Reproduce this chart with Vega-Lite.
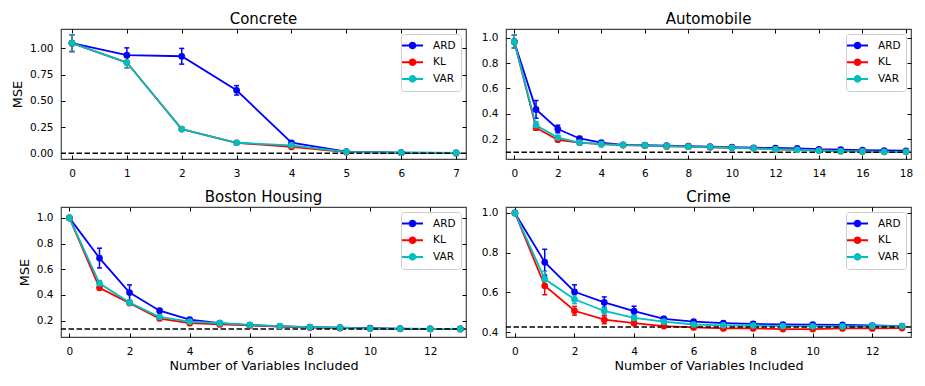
{
  "$schema": "https://vega.github.io/schema/vega-lite/v6.json",
  "autosize": {"type": "none"},
  "padding": {"left": 61, "top": 29, "right": 864, "bottom": 357},
  "background": "white",
  "columns": 2,
  "spacing": {"row": 48, "column": 40},
  "bounds": "flush",
  "resolve": {"scale": {"x": "independent", "y": "independent", "color": "independent"}, "legend": {"color": "independent"}},
  "concat": [
        {
          "title": "Concrete",
          "width": 405, "height": 130,
          "data": {"values": [
            {"x":0,"m":"ARD","y":1.05,"e":0.08},{"x":1,"m":"ARD","y":0.935,"e":0.07},{"x":2,"m":"ARD","y":0.925,"e":0.075},{"x":3,"m":"ARD","y":0.6,"e":0.045},{"x":4,"m":"ARD","y":0.1,"e":0.015},{"x":5,"m":"ARD","y":0.015,"e":0.005},{"x":6,"m":"ARD","y":0.005,"e":0.002},{"x":7,"m":"ARD","y":0.003,"e":0.002},
            {"x":0,"m":"KL","y":1.05,"e":0.08},{"x":1,"m":"KL","y":0.865,"e":0.05},{"x":2,"m":"KL","y":0.23,"e":0.015},{"x":3,"m":"KL","y":0.1,"e":0.01},{"x":4,"m":"KL","y":0.06,"e":0.01},{"x":5,"m":"KL","y":0.01,"e":0.003},{"x":6,"m":"KL","y":0.004,"e":0.002},{"x":7,"m":"KL","y":0.002,"e":0.001},
            {"x":0,"m":"VAR","y":1.05,"e":0.08},{"x":1,"m":"VAR","y":0.865,"e":0.05},{"x":2,"m":"VAR","y":0.23,"e":0.015},{"x":3,"m":"VAR","y":0.1,"e":0.01},{"x":4,"m":"VAR","y":0.075,"e":0.01},{"x":5,"m":"VAR","y":0.013,"e":0.003},{"x":6,"m":"VAR","y":0.005,"e":0.002},{"x":7,"m":"VAR","y":0.003,"e":0.001}
          ]},
          "layer": [
            {"mark": {"type": "errorbar", "ticks": {"size": 5, "thickness": 1.5, "opacity": 1}, "thickness": 1.5, "opacity": 1},
             "encoding": {"x": {"field": "x", "type": "quantitative", "axis": null}, "y": {"field": "y", "type": "quantitative", "axis": null}, "yError": {"field": "e"}, "color": {"field": "m", "type": "nominal"}}},
            {"mark": {"type": "line", "strokeWidth": 1.8},
             "encoding": {
               "x": {"field": "x", "type": "quantitative", "scale": {"domain": [-0.2, 7.18], "nice": false, "zero": false}, "axis": {"orient": "bottom", "values": [0,1,2,3,4,5,6,7], "title": null}},
               "y": {"field": "y", "type": "quantitative", "scale": {"domain": [-0.055, 1.185], "nice": false, "zero": false}, "axis": {"orient": "left", "values": [0,0.25,0.5,0.75,1], "format": ".2f", "title": "MSE"}},
               "color": {"field": "m", "type": "nominal", "scale": {"domain": ["ARD","KL","VAR"], "range": ["#0000ff","#ff0000","#00bfbf"]}, "legend": {"orient": "top-right", "title": null, "symbolType": "M-2,0H2M0.534,0A0.534,0.534,0,1,1,-0.534,0A0.534,0.534,0,1,1,0.534,0M0.19,0A0.19,0.19,0,1,1,-0.19,0A0.19,0.19,0,1,1,0.19,0", "symbolSize": 110, "symbolStrokeWidth": 2, "symbolOpacity": 1}}}},
            {"data": {"values": [{"ref": 0}]}, "mark": {"type": "rule", "color": "black", "strokeDash": [5.5, 2.5], "strokeWidth": 1.5},
             "encoding": {"y": {"field": "ref", "type": "quantitative", "axis": null}}},
            {"mark": {"type": "circle", "size": 45, "opacity": 1},
             "encoding": {
               "x": {"field": "x", "type": "quantitative", "axis": {"orient": "top", "values": [0,1,2,3,4,5,6,7], "labels": false, "title": null}},
               "y": {"field": "y", "type": "quantitative", "axis": {"orient": "right", "values": [0,0.25,0.5,0.75,1], "labels": false, "title": null}},
               "color": {"field": "m", "type": "nominal"}}}
          ]
        },
        {
          "title": "Automobile",
          "width": 405, "height": 130,
          "data": {"values": [
            {"x":0,"m":"ARD","y":0.97,"e":0.05},{"x":1,"m":"ARD","y":0.435,"e":0.07},{"x":2,"m":"ARD","y":0.28,"e":0.03},{"x":3,"m":"ARD","y":0.205,"e":0.015},{"x":4,"m":"ARD","y":0.172,"e":0.01},{"x":5,"m":"ARD","y":0.155,"e":0.008},{"x":6,"m":"ARD","y":0.152,"e":0.007},{"x":7,"m":"ARD","y":0.148,"e":0.006},{"x":8,"m":"ARD","y":0.145,"e":0.006},{"x":9,"m":"ARD","y":0.14,"e":0.006},{"x":10,"m":"ARD","y":0.137,"e":0.005},{"x":11,"m":"ARD","y":0.132,"e":0.005},{"x":12,"m":"ARD","y":0.13,"e":0.005},{"x":13,"m":"ARD","y":0.127,"e":0.005},{"x":14,"m":"ARD","y":0.12,"e":0.005},{"x":15,"m":"ARD","y":0.117,"e":0.005},{"x":16,"m":"ARD","y":0.113,"e":0.005},{"x":17,"m":"ARD","y":0.11,"e":0.005},{"x":18,"m":"ARD","y":0.108,"e":0.005},
            {"x":0,"m":"KL","y":0.97,"e":0.05},{"x":1,"m":"KL","y":0.29,"e":0.02},{"x":2,"m":"KL","y":0.195,"e":0.012},{"x":3,"m":"KL","y":0.172,"e":0.01},{"x":4,"m":"KL","y":0.16,"e":0.008},{"x":5,"m":"KL","y":0.153,"e":0.007},{"x":6,"m":"KL","y":0.148,"e":0.006},{"x":7,"m":"KL","y":0.142,"e":0.006},{"x":8,"m":"KL","y":0.14,"e":0.006},{"x":9,"m":"KL","y":0.135,"e":0.005},{"x":10,"m":"KL","y":0.132,"e":0.005},{"x":11,"m":"KL","y":0.127,"e":0.005},{"x":12,"m":"KL","y":0.12,"e":0.005},{"x":13,"m":"KL","y":0.116,"e":0.005},{"x":14,"m":"KL","y":0.11,"e":0.005},{"x":15,"m":"KL","y":0.105,"e":0.005},{"x":16,"m":"KL","y":0.103,"e":0.005},{"x":17,"m":"KL","y":0.1,"e":0.005},{"x":18,"m":"KL","y":0.1,"e":0.005},
            {"x":0,"m":"VAR","y":0.97,"e":0.05},{"x":1,"m":"VAR","y":0.31,"e":0.03},{"x":2,"m":"VAR","y":0.212,"e":0.015},{"x":3,"m":"VAR","y":0.173,"e":0.01},{"x":4,"m":"VAR","y":0.16,"e":0.008},{"x":5,"m":"VAR","y":0.153,"e":0.007},{"x":6,"m":"VAR","y":0.15,"e":0.006},{"x":7,"m":"VAR","y":0.145,"e":0.006},{"x":8,"m":"VAR","y":0.14,"e":0.006},{"x":9,"m":"VAR","y":0.137,"e":0.005},{"x":10,"m":"VAR","y":0.132,"e":0.005},{"x":11,"m":"VAR","y":0.127,"e":0.005},{"x":12,"m":"VAR","y":0.12,"e":0.005},{"x":13,"m":"VAR","y":0.116,"e":0.005},{"x":14,"m":"VAR","y":0.11,"e":0.005},{"x":15,"m":"VAR","y":0.105,"e":0.005},{"x":16,"m":"VAR","y":0.103,"e":0.005},{"x":17,"m":"VAR","y":0.1,"e":0.005},{"x":18,"m":"VAR","y":0.1,"e":0.005}
          ]},
          "layer": [
            {"mark": {"type": "errorbar", "ticks": {"size": 5, "thickness": 1.5, "opacity": 1}, "thickness": 1.5, "opacity": 1},
             "encoding": {"x": {"field": "x", "type": "quantitative", "axis": null}, "y": {"field": "y", "type": "quantitative", "axis": null}, "yError": {"field": "e"}, "color": {"field": "m", "type": "nominal"}}},
            {"mark": {"type": "line", "strokeWidth": 1.8},
             "encoding": {
               "x": {"field": "x", "type": "quantitative", "scale": {"domain": [-0.38, 18.23], "nice": false, "zero": false}, "axis": {"orient": "bottom", "values": [0,2,4,6,8,10,12,14,16,18], "title": null}},
               "y": {"field": "y", "type": "quantitative", "scale": {"domain": [0.043, 1.07], "nice": false, "zero": false}, "axis": {"orient": "left", "values": [0.2,0.4,0.6,0.8,1.0], "format": ".1f", "title": null}},
               "color": {"field": "m", "type": "nominal", "scale": {"domain": ["ARD","KL","VAR"], "range": ["#0000ff","#ff0000","#00bfbf"]}, "legend": {"orient": "top-right", "title": null, "symbolType": "M-2,0H2M0.534,0A0.534,0.534,0,1,1,-0.534,0A0.534,0.534,0,1,1,0.534,0M0.19,0A0.19,0.19,0,1,1,-0.19,0A0.19,0.19,0,1,1,0.19,0", "symbolSize": 110, "symbolStrokeWidth": 2, "symbolOpacity": 1}}}},
            {"data": {"values": [{"ref": 0.097}]}, "mark": {"type": "rule", "color": "black", "strokeDash": [5.5, 2.5], "strokeWidth": 1.5},
             "encoding": {"y": {"field": "ref", "type": "quantitative", "axis": null}}},
            {"mark": {"type": "circle", "size": 45, "opacity": 1},
             "encoding": {
               "x": {"field": "x", "type": "quantitative", "axis": {"orient": "top", "values": [0,2,4,6,8,10,12,14,16,18], "labels": false, "title": null}},
               "y": {"field": "y", "type": "quantitative", "axis": {"orient": "right", "values": [0.2,0.4,0.6,0.8,1.0], "labels": false, "title": null}},
               "color": {"field": "m", "type": "nominal"}}}
          ]
        },
        {
          "title": "Boston Housing",
          "width": 405, "height": 130,
          "data": {"values": [
            {"x":0,"m":"ARD","y":1.0,"e":0.01},{"x":1,"m":"ARD","y":0.687,"e":0.077},{"x":2,"m":"ARD","y":0.418,"e":0.06},{"x":3,"m":"ARD","y":0.277,"e":0.015},{"x":4,"m":"ARD","y":0.208,"e":0.01},{"x":5,"m":"ARD","y":0.18,"e":0.006},{"x":6,"m":"ARD","y":0.165,"e":0.005},{"x":7,"m":"ARD","y":0.155,"e":0.005},{"x":8,"m":"ARD","y":0.149,"e":0.004},{"x":9,"m":"ARD","y":0.145,"e":0.004},{"x":10,"m":"ARD","y":0.141,"e":0.004},{"x":11,"m":"ARD","y":0.137,"e":0.004},{"x":12,"m":"ARD","y":0.136,"e":0.004},{"x":13,"m":"ARD","y":0.135,"e":0.004},
            {"x":0,"m":"KL","y":1.0,"e":0.01},{"x":1,"m":"KL","y":0.455,"e":0.015},{"x":2,"m":"KL","y":0.336,"e":0.012},{"x":3,"m":"KL","y":0.216,"e":0.01},{"x":4,"m":"KL","y":0.18,"e":0.008},{"x":5,"m":"KL","y":0.17,"e":0.006},{"x":6,"m":"KL","y":0.162,"e":0.005},{"x":7,"m":"KL","y":0.154,"e":0.005},{"x":8,"m":"KL","y":0.146,"e":0.004},{"x":9,"m":"KL","y":0.141,"e":0.004},{"x":10,"m":"KL","y":0.138,"e":0.004},{"x":11,"m":"KL","y":0.136,"e":0.004},{"x":12,"m":"KL","y":0.135,"e":0.004},{"x":13,"m":"KL","y":0.135,"e":0.004},
            {"x":0,"m":"VAR","y":1.0,"e":0.01},{"x":1,"m":"VAR","y":0.49,"e":0.022},{"x":2,"m":"VAR","y":0.34,"e":0.012},{"x":3,"m":"VAR","y":0.228,"e":0.01},{"x":4,"m":"VAR","y":0.192,"e":0.008},{"x":5,"m":"VAR","y":0.18,"e":0.006},{"x":6,"m":"VAR","y":0.166,"e":0.005},{"x":7,"m":"VAR","y":0.156,"e":0.005},{"x":8,"m":"VAR","y":0.149,"e":0.004},{"x":9,"m":"VAR","y":0.144,"e":0.004},{"x":10,"m":"VAR","y":0.138,"e":0.004},{"x":11,"m":"VAR","y":0.136,"e":0.004},{"x":12,"m":"VAR","y":0.136,"e":0.004},{"x":13,"m":"VAR","y":0.135,"e":0.004}
          ]},
          "layer": [
            {"mark": {"type": "errorbar", "ticks": {"size": 5, "thickness": 1.5, "opacity": 1}, "thickness": 1.5, "opacity": 1},
             "encoding": {"x": {"field": "x", "type": "quantitative", "axis": null}, "y": {"field": "y", "type": "quantitative", "axis": null}, "yError": {"field": "e"}, "color": {"field": "m", "type": "nominal"}}},
            {"mark": {"type": "line", "strokeWidth": 1.8},
             "encoding": {
               "x": {"field": "x", "type": "quantitative", "scale": {"domain": [-0.28, 13.19], "nice": false, "zero": false}, "axis": {"orient": "bottom", "values": [0,2,4,6,8,10,12], "title": "Number of Variables Included"}},
               "y": {"field": "y", "type": "quantitative", "scale": {"domain": [0.072, 1.085], "nice": false, "zero": false}, "axis": {"orient": "left", "values": [0.2,0.4,0.6,0.8,1.0], "format": ".1f", "title": "MSE"}},
               "color": {"field": "m", "type": "nominal", "scale": {"domain": ["ARD","KL","VAR"], "range": ["#0000ff","#ff0000","#00bfbf"]}, "legend": {"orient": "top-right", "title": null, "symbolType": "M-2,0H2M0.534,0A0.534,0.534,0,1,1,-0.534,0A0.534,0.534,0,1,1,0.534,0M0.19,0A0.19,0.19,0,1,1,-0.19,0A0.19,0.19,0,1,1,0.19,0", "symbolSize": 110, "symbolStrokeWidth": 2, "symbolOpacity": 1}}}},
            {"data": {"values": [{"ref": 0.135}]}, "mark": {"type": "rule", "color": "black", "strokeDash": [5.5, 2.5], "strokeWidth": 1.5},
             "encoding": {"y": {"field": "ref", "type": "quantitative", "axis": null}}},
            {"mark": {"type": "circle", "size": 45, "opacity": 1},
             "encoding": {
               "x": {"field": "x", "type": "quantitative", "axis": {"orient": "top", "values": [0,2,4,6,8,10,12], "labels": false, "title": null}},
               "y": {"field": "y", "type": "quantitative", "axis": {"orient": "right", "values": [0.2,0.4,0.6,0.8,1.0], "labels": false, "title": null}},
               "color": {"field": "m", "type": "nominal"}}}
          ]
        },
        {
          "title": "Crime",
          "width": 405, "height": 130,
          "data": {"values": [
            {"x":0,"m":"ARD","y":1.0,"e":0.005},{"x":1,"m":"ARD","y":0.752,"e":0.065},{"x":2,"m":"ARD","y":0.603,"e":0.035},{"x":3,"m":"ARD","y":0.549,"e":0.028},{"x":4,"m":"ARD","y":0.505,"e":0.025},{"x":5,"m":"ARD","y":0.466,"e":0.012},{"x":6,"m":"ARD","y":0.452,"e":0.01},{"x":7,"m":"ARD","y":0.445,"e":0.008},{"x":8,"m":"ARD","y":0.441,"e":0.007},{"x":9,"m":"ARD","y":0.438,"e":0.007},{"x":10,"m":"ARD","y":0.437,"e":0.006},{"x":11,"m":"ARD","y":0.436,"e":0.006},{"x":12,"m":"ARD","y":0.433,"e":0.006},{"x":13,"m":"ARD","y":0.43,"e":0.006},
            {"x":0,"m":"KL","y":1.0,"e":0.005},{"x":1,"m":"KL","y":0.633,"e":0.045},{"x":2,"m":"KL","y":0.507,"e":0.022},{"x":3,"m":"KL","y":0.462,"e":0.02},{"x":4,"m":"KL","y":0.445,"e":0.012},{"x":5,"m":"KL","y":0.43,"e":0.008},{"x":6,"m":"KL","y":0.423,"e":0.007},{"x":7,"m":"KL","y":0.418,"e":0.007},{"x":8,"m":"KL","y":0.418,"e":0.006},{"x":9,"m":"KL","y":0.415,"e":0.006},{"x":10,"m":"KL","y":0.415,"e":0.006},{"x":11,"m":"KL","y":0.418,"e":0.006},{"x":12,"m":"KL","y":0.418,"e":0.006},{"x":13,"m":"KL","y":0.42,"e":0.006},
            {"x":0,"m":"VAR","y":1.0,"e":0.005},{"x":1,"m":"VAR","y":0.667,"e":0.04},{"x":2,"m":"VAR","y":0.565,"e":0.022},{"x":3,"m":"VAR","y":0.506,"e":0.02},{"x":4,"m":"VAR","y":0.471,"e":0.015},{"x":5,"m":"VAR","y":0.452,"e":0.01},{"x":6,"m":"VAR","y":0.438,"e":0.008},{"x":7,"m":"VAR","y":0.434,"e":0.007},{"x":8,"m":"VAR","y":0.433,"e":0.007},{"x":9,"m":"VAR","y":0.43,"e":0.006},{"x":10,"m":"VAR","y":0.429,"e":0.006},{"x":11,"m":"VAR","y":0.429,"e":0.006},{"x":12,"m":"VAR","y":0.43,"e":0.006},{"x":13,"m":"VAR","y":0.43,"e":0.006}
          ]},
          "layer": [
            {"mark": {"type": "errorbar", "ticks": {"size": 5, "thickness": 1.5, "opacity": 1}, "thickness": 1.5, "opacity": 1},
             "encoding": {"x": {"field": "x", "type": "quantitative", "axis": null}, "y": {"field": "y", "type": "quantitative", "axis": null}, "yError": {"field": "e"}, "color": {"field": "m", "type": "nominal"}}},
            {"mark": {"type": "line", "strokeWidth": 1.8},
             "encoding": {
               "x": {"field": "x", "type": "quantitative", "scale": {"domain": [-0.3, 13.3], "nice": false, "zero": false}, "axis": {"orient": "bottom", "values": [0,2,4,6,8,10,12], "title": "Number of Variables Included"}},
               "y": {"field": "y", "type": "quantitative", "scale": {"domain": [0.375, 1.03], "nice": false, "zero": false}, "axis": {"orient": "left", "values": [0.4,0.6,0.8,1.0], "format": ".1f", "title": null}},
               "color": {"field": "m", "type": "nominal", "scale": {"domain": ["ARD","KL","VAR"], "range": ["#0000ff","#ff0000","#00bfbf"]}, "legend": {"orient": "top-right", "title": null, "symbolType": "M-2,0H2M0.534,0A0.534,0.534,0,1,1,-0.534,0A0.534,0.534,0,1,1,0.534,0M0.19,0A0.19,0.19,0,1,1,-0.19,0A0.19,0.19,0,1,1,0.19,0", "symbolSize": 110, "symbolStrokeWidth": 2, "symbolOpacity": 1}}}},
            {"data": {"values": [{"ref": 0.425}]}, "mark": {"type": "rule", "color": "black", "strokeDash": [5.5, 2.5], "strokeWidth": 1.5},
             "encoding": {"y": {"field": "ref", "type": "quantitative", "axis": null}}},
            {"mark": {"type": "circle", "size": 45, "opacity": 1},
             "encoding": {
               "x": {"field": "x", "type": "quantitative", "axis": {"orient": "top", "values": [0,2,4,6,8,10,12], "labels": false, "title": null}},
               "y": {"field": "y", "type": "quantitative", "axis": {"orient": "right", "values": [0.4,0.6,0.8,1.0], "labels": false, "title": null}},
               "color": {"field": "m", "type": "nominal"}}}
          ]
        }
  ],
  "config": {
    "font": "DejaVu Sans",
    "view": {"stroke": "#444444", "strokeWidth": 1.2},
    "axis": {"grid": false, "domain": false, "tickSize": -4, "tickColor": "black", "tickWidth": 1, "labelFont": "DejaVu Sans", "labelFontSize": 10.5, "labelColor": "black", "labelFlush": false, "labelOverlap": false, "titleFont": "DejaVu Sans", "titleFontSize": 12.8, "titleFontWeight": "normal", "titleColor": "black"},
    "axisX": {"labelPadding": 13, "titlePadding": 3},
    "axisY": {"labelPadding": 12, "titlePadding": 5},
    "title": {"font": "DejaVu Sans", "fontSize": 15, "fontWeight": "normal", "color": "black", "offset": 2, "anchor": "middle"},
    "legend": {
      "orient": "top-right", "offset": 5, "title": null, "padding": 5,
      "strokeColor": "#cccccc", "fillColor": "white", "cornerRadius": 3,
      "labelFont": "DejaVu Sans", "labelFontSize": 10.5, "labelColor": "black", "labelOffset": 14,
      "symbolSize": 110, "symbolStrokeWidth": 2, "symbolOpacity": 1, "rowPadding": 1.7
    }
  }
}
